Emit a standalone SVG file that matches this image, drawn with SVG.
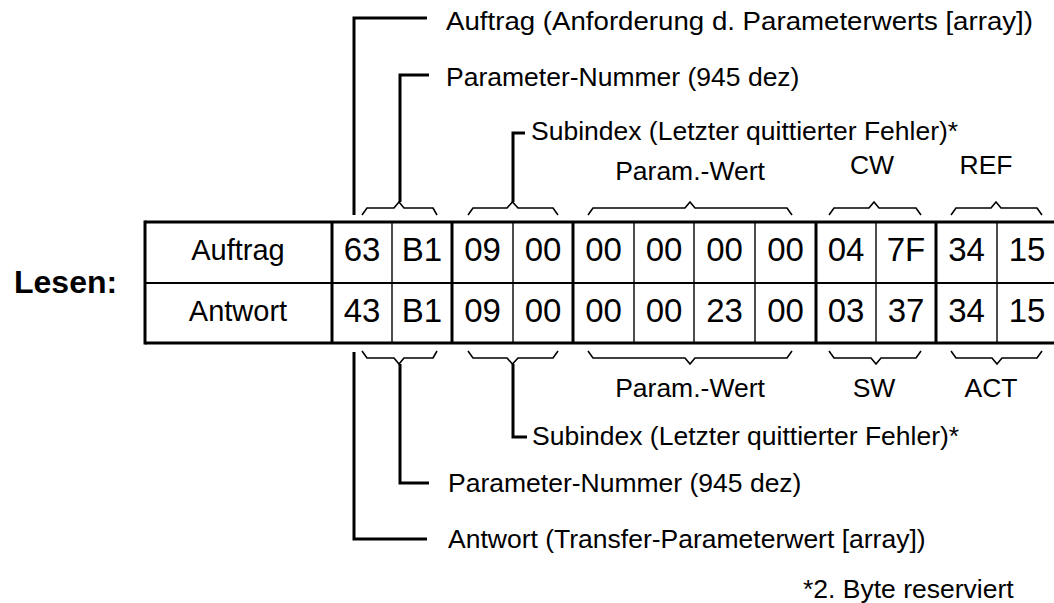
<svg xmlns="http://www.w3.org/2000/svg" width="1054" height="603" viewBox="0 0 1054 603">
  <style>
    text { font-family: "Liberation Sans", Arial, sans-serif; fill: #000; }
    .cell { font-size: 33px; text-anchor: middle; }
    .rowlabel { font-size: 29px; text-anchor: middle; }
    .label { font-size: 26.5px; }
    .mid { text-anchor: middle; }
    .title { font-size: 32px; font-weight: bold; }
    .thick { stroke: #000; stroke-width: 3; fill: none; }
    .thin { stroke: #000; stroke-width: 1.4; fill: none; }
    .hmid { stroke: #000; stroke-width: 2; fill: none; }
    .brace { stroke: #000; stroke-width: 1.6; fill: none; stroke-linejoin: miter; }
    .lead { stroke: #000; stroke-width: 3; fill: none; stroke-linejoin: miter; }
  </style>

  <!-- heading -->
  <g id="heading">
    <text class="title" x="14" y="293">Lesen:</text>
  </g>

  <!-- telegram table: request row and response row -->
  <g id="table">
    <line class="thick" x1="145" y1="222" x2="1054" y2="222"/>
    <line class="hmid" x1="145" y1="283" x2="1054" y2="283"/>
    <line class="thick" x1="145" y1="343" x2="1054" y2="343"/>
    <line class="thick" x1="145" y1="220.5" x2="145" y2="344.5"/>
    <!-- group separators -->
    <line class="thick" x1="332" y1="222" x2="332" y2="343"/>
    <line class="thick" x1="452" y1="222" x2="452" y2="343"/>
    <line class="thick" x1="573" y1="222" x2="573" y2="343"/>
    <line class="thick" x1="816" y1="222" x2="816" y2="343"/>
    <line class="thick" x1="936" y1="222" x2="936" y2="343"/>
    <!-- byte separators -->
    <line class="thin" x1="392" y1="222" x2="392" y2="343"/>
    <line class="thin" x1="513" y1="222" x2="513" y2="343"/>
    <line class="thin" x1="634" y1="222" x2="634" y2="343"/>
    <line class="thin" x1="694" y1="222" x2="694" y2="343"/>
    <line class="thin" x1="755" y1="222" x2="755" y2="343"/>
    <line class="thin" x1="876" y1="222" x2="876" y2="343"/>
    <line class="thin" x1="997" y1="222" x2="997" y2="343"/>

    <g id="row-auftrag">
      <text class="rowlabel" x="238" y="260">Auftrag</text>
      <text class="cell" x="362" y="261">63</text>
      <text class="cell" x="422" y="261">B1</text>
      <text class="cell" x="482.5" y="261">09</text>
      <text class="cell" x="543" y="261">00</text>
      <text class="cell" x="603.5" y="261">00</text>
      <text class="cell" x="664" y="261">00</text>
      <text class="cell" x="724.5" y="261">00</text>
      <text class="cell" x="785.5" y="261">00</text>
      <text class="cell" x="846" y="261">04</text>
      <text class="cell" x="906" y="261">7F</text>
      <text class="cell" x="966.5" y="261">34</text>
      <text class="cell" x="1027" y="261">15</text>
    </g>
    <g id="row-antwort">
      <text class="rowlabel" x="238" y="321">Antwort</text>
      <text class="cell" x="362" y="322">43</text>
      <text class="cell" x="422" y="322">B1</text>
      <text class="cell" x="482.5" y="322">09</text>
      <text class="cell" x="543" y="322">00</text>
      <text class="cell" x="603.5" y="322">00</text>
      <text class="cell" x="664" y="322">00</text>
      <text class="cell" x="724.5" y="322">23</text>
      <text class="cell" x="785.5" y="322">00</text>
      <text class="cell" x="846" y="322">03</text>
      <text class="cell" x="906" y="322">37</text>
      <text class="cell" x="966.5" y="322">34</text>
      <text class="cell" x="1027" y="322">15</text>
    </g>
  </g>

  <!-- braces and leader lines -->
  <g id="connectors">
    <!-- braces above the request row -->
    <path class="brace" d="M362,215 L367,208 L394,208 L399,202 L404,208 L433,208 L437,215"/>
    <path class="brace" d="M468,215 L473,208 L507,208 L512.5,202 L518,208 L553,208 L558,215"/>
    <path class="brace" d="M588,215 L593,208 L685,208 L690,202 L695,208 L787,208 L792,215"/>
    <path class="brace" d="M829,215 L834,208 L869,208 L874,202 L879,208 L916,208 L921,215"/>
    <path class="brace" d="M951,215 L956,208 L991,208 L996,202 L1001,208 L1037,208 L1042,215"/>
    <!-- braces below the response row -->
    <path class="brace" d="M362,351 L367,358 L394,358 L399,364 L404,358 L433,358 L437,351"/>
    <path class="brace" d="M468,351 L473,358 L507,358 L512.5,364 L518,358 L553,358 L558,351"/>
    <path class="brace" d="M588,351 L593,358 L685,358 L690,364 L695,358 L787,358 L792,351"/>
    <path class="brace" d="M829,351 L834,358 L871,358 L876,364 L881,358 L916,358 L921,351"/>
    <path class="brace" d="M951,351 L956,358 L992,358 L997,364 L1002,358 L1037,358 L1042,351"/>

    <!-- leaders to the request annotations -->
    <path class="lead" d="M354,215 V18 H427"/>
    <path class="lead" d="M400,202 V75 H429"/>
    <path class="lead" d="M513,202 V133 H525"/>
    <!-- leaders to the response annotations -->
    <path class="lead" d="M354,352 V539 H427"/>
    <path class="lead" d="M400,364 V483 H429"/>
    <path class="lead" d="M513,364 V437 H527"/>
  </g>

  <!-- request annotations -->
  <g id="note-auftrag">
    <text class="label" x="446" y="30" textLength="587" lengthAdjust="spacingAndGlyphs">Auftrag (Anforderung d. Parameterwerts [array])</text>
  </g>
  <g id="note-parameter-top">
    <text class="label" x="446" y="86">Parameter-Nummer (945 dez)</text>
  </g>
  <g id="note-subindex-top">
    <text class="label" x="531" y="140">Subindex (Letzter quittierter Fehler)*</text>
  </g>
  <g id="note-wert-top">
    <text class="label mid" x="690" y="180">Param.-Wert</text>
  </g>
  <g id="note-cw">
    <text class="label mid" x="872" y="174">CW</text>
  </g>
  <g id="note-ref">
    <text class="label mid" x="986" y="174">REF</text>
  </g>

  <!-- response annotations -->
  <g id="note-wert-bottom">
    <text class="label mid" x="690" y="397">Param.-Wert</text>
  </g>
  <g id="note-sw">
    <text class="label mid" x="874" y="397">SW</text>
  </g>
  <g id="note-act">
    <text class="label mid" x="991" y="397">ACT</text>
  </g>
  <g id="note-subindex-bottom">
    <text class="label" x="532" y="445">Subindex (Letzter quittierter Fehler)*</text>
  </g>
  <g id="note-parameter-bottom">
    <text class="label" x="448" y="492">Parameter-Nummer (945 dez)</text>
  </g>
  <g id="note-antwort">
    <text class="label" x="448" y="548">Antwort (Transfer-Parameterwert [array])</text>
  </g>

  <!-- footnote -->
  <g id="footnote">
    <text class="label" x="803" y="598">*2. Byte reserviert</text>
  </g>
</svg>
